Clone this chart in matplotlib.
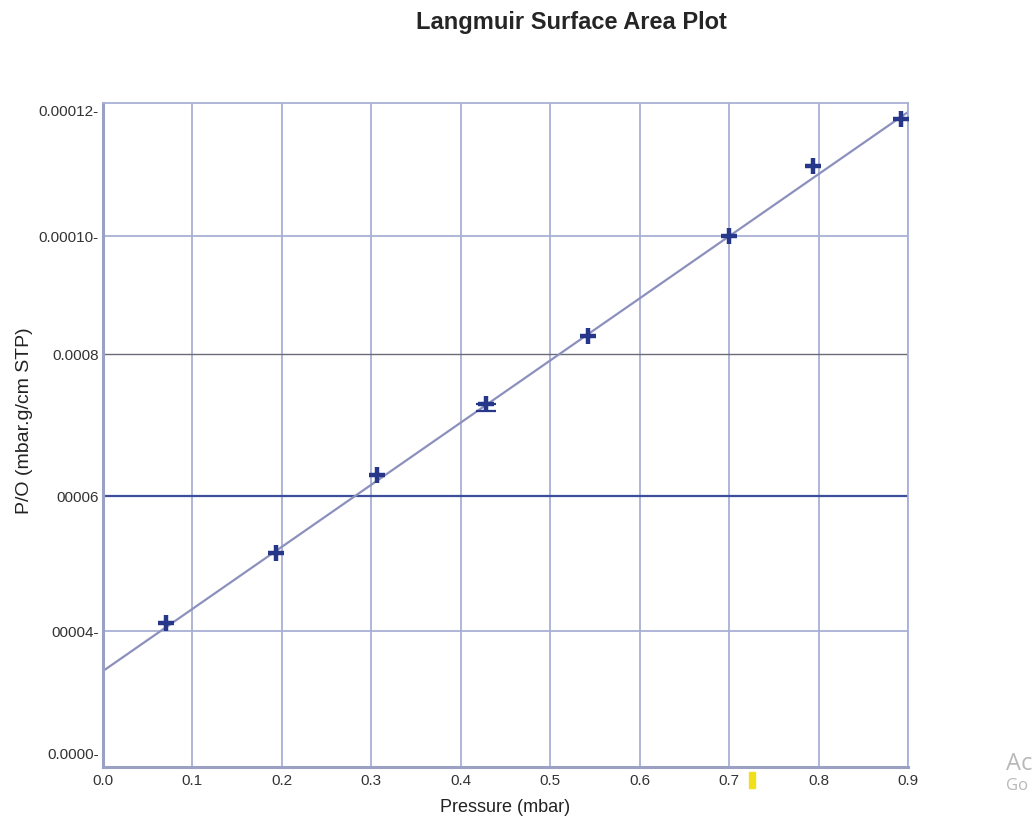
import numpy as np
import matplotlib.pyplot as plt
from matplotlib.patches import Rectangle

# measured data (y in the plot's own units, labels as printed on the chart)
pressure = [0.0704, 0.1934, 0.3063, 0.4282, 0.5423, 0.6999, 0.7938, 0.8920]
p_over_q = [2.602e-5, 3.867e-5, 5.277e-5, 6.560e-5, 7.789e-5, 9.596e-5, 1.0861e-4, 1.1711e-4]
fit_x = [0.0, 0.9]
fit_y = [1.735e-5, 1.1837e-4]

x_ticks = [0.0, 0.1, 0.2, 0.3, 0.4, 0.5, 0.6, 0.7, 0.8, 0.9]
y_tick_pos = [2.53e-6, 2.458e-5, 4.898e-5, 7.464e-5, 9.596e-5, 1.1873e-4]
y_tick_labels = ["0.0000-", "00004-", "00006", "0.0008", "0.00010-", "0.00012-"]
grid_light = [2.458e-5, 9.596e-5]
grid_gray = 7.464e-5
grid_blue = 4.898e-5

plt.rcParams['font.family'] = ['Liberation Sans', 'DejaVu Sans']

fig = plt.figure(figsize=(10.36, 8.23), dpi=100)
ax = fig.add_axes([0.0994, 0.0680, 0.7770, 0.8068])

gridc = '#a9b0d6'
ax.set_xlim(0, 0.9)
ax.set_ylim(0, 1.2e-4)
ax.set_xticks(x_ticks)
ax.set_xticklabels([f"{v:.1f}" for v in x_ticks])
ax.set_yticks(y_tick_pos)
ax.set_yticklabels(y_tick_labels)
ax.tick_params(length=0, labelsize=11, labelcolor='#333333', pad=3)
ax.tick_params(axis='x', pad=5)

for v in x_ticks[1:]:
    ax.axvline(v, color=gridc, lw=1.3, zorder=1)
for v in grid_light:
    ax.axhline(v, color=gridc, lw=1.3, zorder=1)
ax.axhline(grid_gray, color='#6b6b78', lw=1.0, zorder=1)
ax.axhline(grid_blue, color='#3d4f9c', lw=1.6, zorder=1)

for s in ['top', 'right']:
    ax.spines[s].set_color(gridc)
    ax.spines[s].set_linewidth(1.3)
for s in ['left', 'bottom']:
    ax.spines[s].set_color('#9ba1c4')
    ax.spines[s].set_linewidth(2.2)

ax.plot(fit_x, fit_y, color='#8c90bd', lw=1.6, zorder=2)
ax.scatter(pressure, p_over_q, marker='+', s=140, linewidths=3.2, color='#26378a', zorder=4)
# small lower bar seen on the 4th point
ax.errorbar([pressure[3]], [p_over_q[3]], yerr=[[1.3e-6], [0]], fmt='none',
            ecolor='#26378a', capsize=7, capthick=1.6, elinewidth=0, zorder=4)

ax.set_xlabel("Pressure (mbar)", fontsize=13, color='#222222', labelpad=8)
ax.set_ylabel("P/O (mbar.g/cm STP)", fontsize=14, color='#222222')
ax.yaxis.set_label_coords(-0.087, 0.521)

fig.text(571 / 1036, 1 - 23 / 823, "Langmuir Surface Area Plot", ha='center', va='center',
         fontsize=17, fontweight='bold', color='#252525')

fig.text(1006 / 1036, 1 - 764 / 823, "Ac", fontsize=17, color='#b8b8b8', va='center',
         family=['Open Sans', 'DejaVu Sans'])
fig.text(1006 / 1036, 1 - 786 / 823, "Go", fontsize=12, color='#b8b8b8', va='center',
         family=['Open Sans', 'DejaVu Sans'])
fig.patches.append(Rectangle((749 / 1036, 1 - 788 / 823), 6 / 1036, 16 / 823,
                             transform=fig.transFigure, color='#f2df1c'))

fig.savefig("out.png", dpi=100)
